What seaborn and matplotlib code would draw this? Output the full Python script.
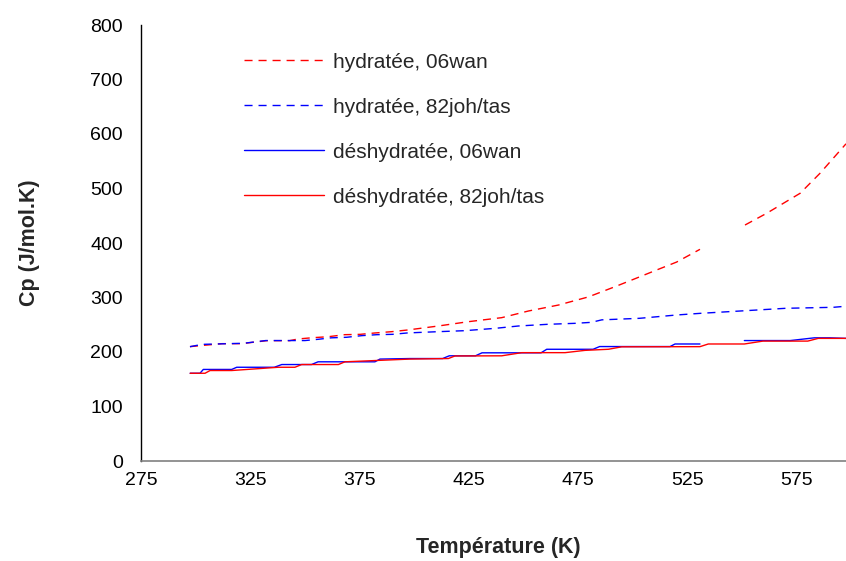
import numpy as np
import pandas as pd
import matplotlib
matplotlib.use("Agg")
import matplotlib.pyplot as plt
import seaborn as sns
from matplotlib.lines import Line2D

# ---- data ----
labels = ["hydratée, 06wan", "hydratée, 82joh/tas",
          "déshydratée, 06wan", "déshydratée, 82joh/tas"]

T_hyd_wan = [297.4, 303, 312, 321, 332.5, 343, 346.8, 353.7, 360.5, 368.3, 375.2, 382,
             389.7, 397, 411, 424.7, 440, 452.2, 466, 479.6, 491.8, 498.7, 510.9, 520,
             530.7, 540, 551.3, 561.2, 576.5, 585.6, 597.5]
Cp_hyd_wan = [209.8, 212, 215.3, 215.3, 220.8, 220.8, 223.9, 226.3, 228, 231.8, 232.4, 234.9,
              237.3, 240.4, 247.7, 255.6, 263, 275.2, 286.2, 301, 319.8, 330.8, 350.5, 365,
              388.4, np.nan, 433, 454.5, 491.2, 527.9, 582]

T_hyd_joh = [297.4, 303, 312, 322, 332, 343, 350, 356, 362, 369, 376, 383, 390, 397,
             411, 423, 437, 447.6, 461, 473.5, 481, 485.8, 503, 520, 530.7, 549, 570,
             591.7, 597.5]
Cp_hyd_joh = [209.8, 214, 215, 216, 221, 221, 221, 223.3, 226, 227, 230, 231.8, 232.4, 235,
              237.3, 239.1, 243.4, 247.7, 250.8, 252.6, 254.4, 259, 261.8, 267.9, 270.9,
              275.2, 280.2, 282, 284]

T_des_wan = [297.5, 302, 303.5, 316.5, 318.8, 336, 339.4, 353, 356, 382, 384.3, 398, 413,
             416, 428, 431, 458, 460.6, 481.8, 484.8, 517, 519.3, 530.7, 540, 551, 572,
             583, 590, 597.5]
Cp_des_wan = [161, 161, 168, 168, 172, 172, 177, 177, 182, 182, 187, 188, 188, 193, 193,
              198.5, 198.5, 205, 205, 210, 210, 214.7, 214.7, np.nan, 221, 221, 226, 226, 225]

T_des_joh = [297.5, 304.3, 306.6, 316.5, 337.8, 345.4, 348.5, 365.3, 368.3, 398, 415.6,
             418.6, 440, 449.2, 469, 478.1, 488.8, 494.9, 530.7, 534.5, 551, 559.5, 580,
             584.8, 597.5]
Cp_des_joh = [161, 161, 166, 166, 172, 172, 177, 177, 182, 187, 188, 192.7, 193, 198.8,
              198.8, 203, 205, 209.5, 209.8, 214.7, 214.7, 220, 220, 225, 225]

x_ticks = [275, 325, 375, 425, 475, 525, 575]
y_ticks = [0, 100, 200, 300, 400, 500, 600, 700, 800]

colors = {labels[0]: "#FF0000", labels[1]: "#0000FF",
          labels[2]: "#0000FF", labels[3]: "#FF0000"}
dash_pat = (5.8, 4.3)
dashes = {labels[0]: dash_pat, labels[1]: dash_pat, labels[2]: "", labels[3]: ""}

# ---- build long table, splitting at missing values ----
rows = []
for lab, T, C in zip(labels, [T_hyd_wan, T_hyd_joh, T_des_wan, T_des_joh],
                     [Cp_hyd_wan, Cp_hyd_joh, Cp_des_wan, Cp_des_joh]):
    seg = 0
    for t, c in zip(T, C):
        if np.isnan(c):
            seg += 1
            continue
        rows.append({"serie": lab, "T": t, "Cp": c, "seg": seg})
df = pd.DataFrame(rows)

sns.set_theme(style="white")
plt.rcParams["font.family"] = ["Liberation Sans", "DejaVu Sans"]

W, H = 846, 561
fig = plt.figure(figsize=(W / 100, H / 100), dpi=100)
ax = fig.add_axes([141 / W, 100 / H, (W - 141) / W, 436 / H])

sns.lineplot(data=df, x="T", y="Cp", hue="serie", style="serie", units="seg",
             estimator=None, sort=False, palette=colors, dashes=dashes,
             hue_order=labels, style_order=labels, lw=1.0, legend=False, ax=ax)

ax.set_xlim(275, 597.5)
ax.set_ylim(0, 800)
ax.set_xticks(x_ticks)
ax.set_yticks(y_ticks)
ax.set_xlabel("")
ax.set_ylabel("")
for s in ["top", "right"]:
    ax.spines[s].set_visible(False)
ax.spines["left"].set_color("black")
ax.spines["left"].set_linewidth(1.0)
ax.spines["bottom"].set_color("#808080")
ax.spines["bottom"].set_linewidth(1.2)
ax.tick_params(axis="y", direction="in", length=5, width=0.8, color="black",
               labelsize=14, pad=13, labelcolor="black")
ax.tick_params(axis="x", direction="in", length=5, width=0.8, color="#606060",
               labelsize=14, pad=8, labelcolor="black")
ax.grid(False)

fig.text(30 / W, 1 - 243 / H, "Cp (J/mol.K)", rotation=90, ha="center", va="center",
         fontsize=15.5, fontweight="bold")
fig.text(498 / W, 1 - 548 / H, "Température (K)", ha="center", va="center",
         fontsize=15.5, fontweight="bold")

handles = [Line2D([], [], color=colors[l], lw=1.0,
                  linestyle=(0, dashes[l]) if dashes[l] else "-") for l in labels]
ax.legend(handles, labels, loc="upper left", bbox_to_anchor=(244 / W, 1 - 52.5 / H),
          bbox_transform=fig.transFigure, frameon=False, borderpad=0, borderaxespad=0,
          handlelength=3.85, handletextpad=0.4, labelspacing=1.25, fontsize=15)

fig.savefig("out.png", dpi=100)
